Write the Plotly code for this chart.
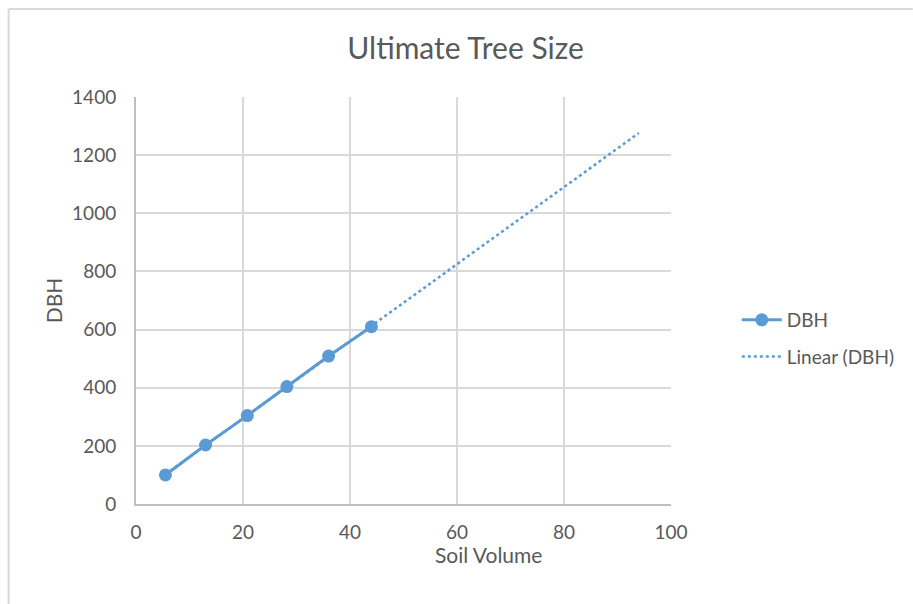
import numpy as np
import plotly.graph_objects as go

soil_volume = [5.5, 13.0, 20.8, 28.2, 36.0, 44.0]
dbh = [100, 203, 304, 404, 509, 610]
forecast_forward = 50

x_ticks = [0, 20, 40, 60, 80, 100]
y_ticks = [0, 200, 400, 600, 800, 1000, 1200, 1400]

blue = "#5b9bd5"
grid = "#d9d9d9"
txt = "#595959"
font = "Lato"

W, H = 913, 604
L, R, T, B = 135.5, 242, 97, 100
PW, PH = W - L - R, H - T - B

def px(xp):
    return (xp - L) / PW

def py(yp):
    return (H - B - yp) / PH

slope, intercept = np.polyfit(soil_volume, dbh, 1)
tx = np.array([min(soil_volume), max(soil_volume) + forecast_forward])
ty = slope * tx + intercept

fig = go.Figure()
fig.add_trace(go.Scatter(
    x=soil_volume, y=dbh, mode="lines+markers", name="DBH", legendgroup="a",
    line=dict(color=blue, width=3), marker=dict(color=blue, size=13)))
fig.add_trace(go.Scatter(
    x=tx, y=ty, mode="lines", name="Linear (DBH)", legendgroup="b",
    line=dict(color=blue, width=2.5, dash="dot")))

fig.update_layout(
    width=W, height=H,
    margin=dict(l=L, r=R, t=T, b=B),
    paper_bgcolor="white", plot_bgcolor="white",
    font=dict(family=font, color=txt, size=19),
    title=dict(text="Ultimate Tree Size", x=0.51, xanchor="center",
               y=1 - 48 / H, yanchor="middle",
               font=dict(size=30, color=txt, family=font)),
    xaxis=dict(range=[0, 100], tickvals=x_ticks, showgrid=True, gridcolor=grid,
               gridwidth=2, showline=True, linecolor="#bfbfbf", linewidth=2,
               zeroline=False, ticks="", ticklen=0, ticklabelstandoff=10),
    yaxis=dict(range=[0, 1400], tickvals=y_ticks, showgrid=True, gridcolor=grid,
               gridwidth=2, showline=True, linecolor="#bfbfbf", linewidth=2,
               zeroline=False, ticks="", ticklen=0, ticklabelstandoff=14,
               title=dict(text="DBH", standoff=4, font=dict(size=21))),
    legend=dict(x=1.123, xanchor="left", y=py(338.5), yanchor="middle",
                font=dict(size=19, color=txt), tracegroupgap=9,
                itemwidth=40),
    showlegend=True,
)

fig.add_annotation(text="Soil Volume", xref="paper", yref="paper",
                   x=px(488), y=py(554), xanchor="center", yanchor="middle",
                   showarrow=False, font=dict(size=21, color=txt, family=font))

# chart-area frame (top and left borders)
fig.add_shape(type="line", xref="paper", yref="paper",
              x0=px(8), x1=px(W), y0=py(9), y1=py(9),
              line=dict(color=grid, width=2))
fig.add_shape(type="line", xref="paper", yref="paper",
              x0=px(8), x1=px(8), y0=py(9), y1=py(H),
              line=dict(color=grid, width=2))

fig.write_html("out.html")
